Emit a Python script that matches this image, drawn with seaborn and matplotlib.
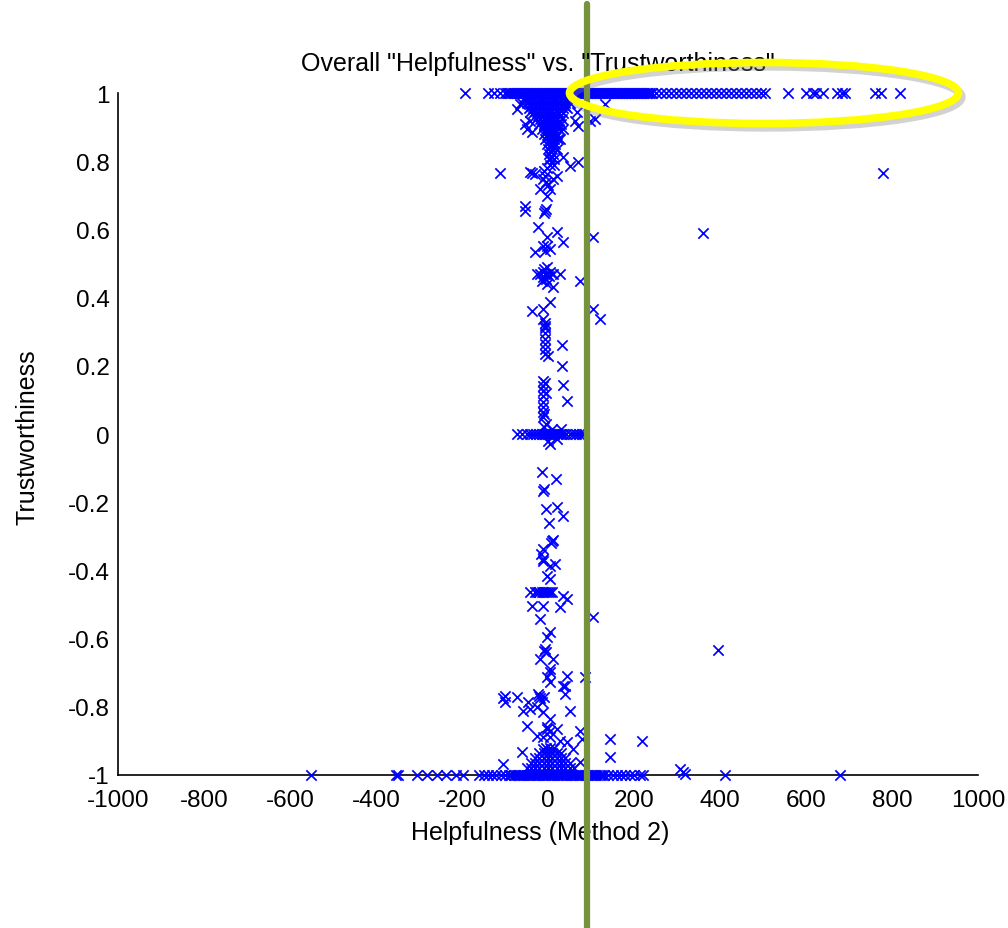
import matplotlib
matplotlib.use("Agg")
import matplotlib.pyplot as plt
import numpy as np
import pandas as pd
import seaborn as sns
from matplotlib.patches import Ellipse
from matplotlib.ticker import FixedLocator, FuncFormatter

# ---------------- data (Helpfulness, Trustworthiness) ----------------
top_row = [(-193, 1), (-140, 1), (-126, 1), (-112, 1), (-100, 1), (-92, 1), (-85, 1), (-78, 1),
           (-71, 1), (-64, 1), (-57, 1), (-50, 1), (-43, 1), (-36, 1), (-29, 1), (-22, 1), (-15, 1),
           (-8, 1), (-1, 1), (6, 1), (13, 1), (20, 1), (27, 1), (34, 1), (41, 1), (48, 1), (55, 1),
           (62, 1), (69, 1), (76, 1), (83, 1), (90, 1), (97, 1), (104, 1), (111, 1), (118, 1),
           (125, 1), (132, 1), (139, 1), (146, 1), (153, 1), (160, 1), (167, 1), (174, 1), (181, 1),
           (188, 1), (195, 1), (202, 1), (209, 1), (216, 1), (223, 1), (230, 1), (237, 1), (250, 1),
           (262, 1), (274, 1), (286, 1), (297, 1), (309, 1), (320, 1), (332, 1), (344, 1), (355, 1),
           (367, 1), (378, 1), (390, 1), (402, 1), (414, 1), (425, 1), (437, 1), (449, 1), (460, 1),
           (472, 1), (484, 1), (495, 1), (505, 1), (558, 1), (600, 1), (616, 1), (624, 1), (640, 1),
           (672, 1), (684, 1), (690, 1), (760, 1), (774, 1), (819, 1)]

top_row_fill = [(-96, 1), (-88, 1), (-81, 1), (-74, 1), (-67, 1), (-60, 1), (-53, 1), (-46, 1),
                (-39, 1), (-32, 1), (-25, 1), (-18, 1), (-11, 1), (-4, 1), (3, 1), (10, 1), (17, 1),
                (24, 1), (31, 1), (38, 1), (45, 1), (52, 1), (59, 1), (66, 1), (73, 1), (80, 1),
                (87, 1), (94, 1), (101, 1), (108, 1), (115, 1), (122, 1), (129, 1), (136, 1),
                (143, 1), (150, 1), (157, 1), (164, 1), (171, 1), (178, 1), (185, 1), (192, 1),
                (199, 1), (206, 1), (213, 1), (220, 1), (227, 1), (234, 1), (243, 1)]

v_core = [(-60, 0.97), (-50, 0.97), (-40, 0.97), (-30, 0.97), (-20, 0.97), (-10, 0.97), (0, 0.97),
          (10, 0.97), (20, 0.97), (30, 0.97), (40, 0.97), (50, 0.97),
          (-55, 0.985), (-45, 0.985), (-35, 0.985), (-25, 0.985), (-15, 0.985), (-5, 0.985),
          (5, 0.985), (15, 0.985), (25, 0.985), (35, 0.985), (45, 0.985), (55, 0.985),
          (-45, 0.955), (-35, 0.955), (-25, 0.955), (-15, 0.955), (-5, 0.955), (5, 0.955),
          (15, 0.955), (25, 0.955), (35, 0.955), (45, 0.955),
          (-40, 0.962), (-30, 0.962), (-20, 0.962), (-10, 0.962), (0, 0.962), (10, 0.962),
          (20, 0.962), (30, 0.962), (40, 0.962),
          (-35, 0.94), (-25, 0.94), (-15, 0.94), (-5, 0.94), (5, 0.94), (15, 0.94), (25, 0.94), (35, 0.94),
          (-30, 0.947), (-20, 0.947), (-10, 0.947), (0, 0.947), (10, 0.947), (20, 0.947), (30, 0.947),
          (-28, 0.925), (-18, 0.925), (-8, 0.925), (2, 0.925), (12, 0.925), (22, 0.925), (32, 0.925),
          (-23, 0.932), (-13, 0.932), (-3, 0.932), (7, 0.932), (17, 0.932), (27, 0.932),
          (-20, 0.91), (-10, 0.91), (0, 0.91), (10, 0.91), (20, 0.91), (30, 0.91),
          (-15, 0.917), (-5, 0.917), (5, 0.917), (15, 0.917), (25, 0.917),
          (-15, 0.895), (-5, 0.895), (5, 0.895), (15, 0.895), (25, 0.895),
          (-10, 0.902), (0, 0.902), (10, 0.902), (20, 0.902),
          (-10, 0.88), (0, 0.88), (10, 0.88), (20, 0.88),
          (-5, 0.887), (5, 0.887), (15, 0.887),
          (-6, 0.865), (4, 0.865), (14, 0.865), (24, 0.865),
          (0, 0.872), (10, 0.872), (19, 0.872),
          (-3, 0.85), (7, 0.85), (17, 0.85), (2, 0.857), (12, 0.857),
          (0, 0.835), (10, 0.835), (20, 0.835), (5, 0.842), (15, 0.842),
          (2, 0.82), (12, 0.82), (7, 0.827), (3, 0.805), (13, 0.805), (8, 0.812), (5, 0.79), (15, 0.79)]

upper_scatter = [(-72, 0.953), (-65, 0.968), (-42, 0.944), (-49, 0.894), (-53, 0.909), (-37, 0.886),
                 (-42, 0.918), (28, 0.933), (35, 0.894), (28, 0.865), (63, 0.918), (70, 0.903),
                 (98, 0.918), (109, 0.924), (133, 0.968), (67, 0.944), (35, 0.812), (51, 0.786),
                 (70, 0.798), (5, 0.806), (-112, 0.765), (-42, 0.768), (-37, 0.765), (-30, 0.762),
                 (-12, 0.748), (-19, 0.718), (5, 0.718), (-2, 0.698), (12, 0.748), (21, 0.757),
                 (-53, 0.669), (-7, 0.757), (0, 0.73), (-5, 0.74), (-9, 0.77), (-2, 0.78)]

mid_upper = [(-53, 0.654), (-7, 0.654), (-5, 0.66), (-9, 0.648), (-23, 0.607), (21, 0.592),
             (-2, 0.578), (35, 0.563), (-30, 0.534), (-12, 0.551), (-2, 0.551), (5, 0.543),
             (-7, 0.537), (105, 0.578), (360, 0.589), (779, 0.765),
             (-19, 0.469), (-12, 0.475), (-7, 0.469), (-2, 0.469), (3, 0.463), (-12, 0.46),
             (-5, 0.455), (-9, 0.484), (-2, 0.49), (5, 0.475), (12, 0.469), (-14, 0.45),
             (28, 0.469), (12, 0.431), (-2, 0.44), (74, 0.449), (-26, 0.47),
             (-37, 0.361), (5, 0.387), (-12, 0.367), (-12, 0.337), (-7, 0.317), (105, 0.367),
             (121, 0.337),
             (-7, 0.325), (-7, 0.31), (-7, 0.295), (-7, 0.28), (-7, 0.265), (-7, 0.25), (-7, 0.235),
             (33, 0.261), (0, 0.229), (33, 0.199),
             (-12, 0.155), (-12, 0.14), (-12, 0.125), (-12, 0.11), (-12, 0.095), (-12, 0.08),
             (-12, 0.065), (-12, 0.05), (-7, 0.15), (-5, 0.12), (-9, 0.06), (35, 0.144), (44, 0.097)]

zero_row = [(-72, 0), (-60, 0), (-50, 0), (-42, 0), (-35, 0), (-28, 0), (-20, 0), (-14, 0), (-9, 0),
            (-5, 0), (0, 0), (5, 0), (10, 0), (15, 0), (20, 0), (25, 0), (30, 0), (36, 0), (42, 0),
            (50, 0), (58, 0), (65, 0), (72, 0), (78, 0), (83, 0),
            (-10, 0.02), (0, -0.02), (10, 0.015), (-5, 0.03), (20, -0.015), (30, 0.015), (5, -0.03)]

lower = [(-14, -0.111), (19, -0.132), (-12, -0.167), (-9, -0.16), (-5, -0.22), (21, -0.214),
         (35, -0.24), (2, -0.261), (9, -0.314), (12, -0.31), (7, -0.32), (-12, -0.337),
         (-16, -0.352), (-12, -0.367), (16, -0.381), (5, -0.387), (-12, -0.372), (-2, -0.416),
         (5, -0.425),
         (-30, -0.463), (-25, -0.463), (-20, -0.463), (-15, -0.463), (-10, -0.463), (-5, -0.463),
         (0, -0.463), (5, -0.463), (10, -0.463),
         (-42, -0.463), (35, -0.475), (44, -0.484), (-37, -0.504), (-12, -0.504), (28, -0.507),
         (-19, -0.543), (105, -0.537),
         (5, -0.581), (-2, -0.595), (-7, -0.63), (-5, -0.64), (-9, -0.635), (-19, -0.66),
         (12, -0.66), (5, -0.689), (-2, -0.713), (44, -0.71), (86, -0.713), (35, -0.739),
         (5, -0.698), (5, -0.727), (395, -0.633)]

low_cluster = [(-105, -0.774), (-100, -0.768), (-100, -0.786), (-72, -0.771), (-47, -0.786),
               (-23, -0.762), (-20, -0.768), (-14, -0.786), (-18, -0.775), (-10, -0.77),
               (40, -0.739), (40, -0.762),
               (-58, -0.812), (-42, -0.806), (-26, -0.801), (-12, -0.815), (5, -0.836), (51, -0.812),
               (-49, -0.856), (-2, -0.865), (-2, -0.86), (5, -0.87), (21, -0.865), (74, -0.871),
               (-26, -0.886), (-12, -0.889), (5, -0.889), (28, -0.9), (44, -0.903), (79, -0.894),
               (-60, -0.933), (-12, -0.924), (58, -0.924), (144, -0.894), (219, -0.9),
               (144, -0.947), (74, -0.962), (-105, -0.968),
               (-5, -0.92), (5, -0.92), (15, -0.92),
               (-20, -0.935), (-10, -0.935), (0, -0.935), (10, -0.935), (20, -0.935), (30, -0.935),
               (-30, -0.95), (-20, -0.95), (-10, -0.95), (0, -0.95), (10, -0.95), (20, -0.95),
               (30, -0.95), (40, -0.95),
               (-40, -0.965), (-30, -0.965), (-20, -0.965), (-10, -0.965), (0, -0.965), (10, -0.965),
               (20, -0.965), (30, -0.965), (40, -0.965), (50, -0.965),
               (-50, -0.98), (-40, -0.98), (-30, -0.98), (-20, -0.98), (-10, -0.98), (0, -0.98),
               (10, -0.98), (20, -0.98), (30, -0.98), (40, -0.98), (50, -0.98), (60, -0.98)]

bottom_row = [(-551, -1), (-353, -1), (-348, -1), (-304, -1), (-281, -1), (-259, -1), (-237, -1),
              (-215, -1), (-197, -1), (-160, -1), (-150, -1), (-140, -1), (-130, -1), (-120, -1),
              (-110, -1), (-100, -1), (-90, -1), (-80, -1), (-70, -1), (-60, -1), (-50, -1),
              (-40, -1), (-30, -1), (-20, -1), (-10, -1), (0, -1), (10, -1), (20, -1), (30, -1),
              (40, -1), (50, -1), (60, -1), (70, -1), (80, -1), (90, -1), (100, -1), (110, -1),
              (120, -1), (130, -1), (140, -1), (150, -1), (160, -1), (170, -1), (178, -1),
              (190, -1), (200, -1), (214, -1), (222, -1), (412, -1), (679, -1),
              (307, -0.982), (319, -0.997), (315, -0.99),
              (-85, -1), (-75, -1), (-65, -1), (-55, -1), (-45, -1), (-35, -1), (-25, -1),
              (-15, -1), (-5, -1), (5, -1), (15, -1), (25, -1), (35, -1), (45, -1), (55, -1),
              (65, -1), (75, -1), (85, -1), (95, -1), (105, -1), (115, -1), (125, -1)]

x_ticks = [-1000, -800, -600, -400, -200, 0, 200, 400, 600, 800, 1000]
y_ticks = [-1, -0.8, -0.6, -0.4, -0.2, 0, 0.2, 0.4, 0.6, 0.8, 1]
threshold_help = 91

title_text = 'Overall "Helpfulness" vs. "Trustworthiness"'
x_label = "Helpfulness (Method 2)"
y_label = "Trustworthiness"

points = (top_row + top_row_fill + v_core + upper_scatter + mid_upper + zero_row + lower
          + low_cluster + bottom_row)
df = pd.DataFrame(points, columns=["help", "trust"])

# ---------------- style ----------------
sns.set_style("white")
plt.rcParams["font.family"] = ["Liberation Sans", "DejaVu Sans"]
plt.rcParams["axes.unicode_minus"] = False
plt.rcParams["text.color"] = "black"
plt.rcParams["axes.labelcolor"] = "black"
plt.rcParams["xtick.color"] = "black"
plt.rcParams["ytick.color"] = "black"

W, H = 1008, 929
fig = plt.figure(figsize=(W / 100, H / 100), dpi=100)
ax = fig.add_axes([118 / W, (H - 776) / H, 860 / W, 682 / H])

sns.scatterplot(data=df, x="help", y="trust", marker="x", color="#0000ff", s=55,
                linewidth=1.25, ax=ax, clip_on=False, legend=False, zorder=3)

ax.set_xlim(-1000, 1000)
ax.set_ylim(-1, 1)
ax.xaxis.set_major_locator(FixedLocator(x_ticks))
ax.yaxis.set_major_locator(FixedLocator(y_ticks))
fmt = FuncFormatter(lambda v, p: f"{v:g}")
ax.xaxis.set_major_formatter(fmt)
ax.yaxis.set_major_formatter(fmt)

for s in ["top", "right"]:
    ax.spines[s].set_visible(False)
for s in ["left", "bottom"]:
    ax.spines[s].set_color("black")
    ax.spines[s].set_linewidth(1.2)

ax.tick_params(axis="both", direction="in", length=7, width=1.2, colors="black",
               labelcolor="black", labelsize=17.5)
ax.tick_params(axis="x", pad=10)
ax.tick_params(axis="y", pad=6)

ax.set_xlabel(x_label, fontsize=18, color="black")
ax.set_ylabel(y_label, fontsize=18, color="black")
ax.xaxis.set_label_coords((540 - 118) / 860, (776 - 833) / 682)
ax.xaxis.label.set_va("center")
ax.yaxis.set_label_coords((28 - 118) / 860, (776 - 437) / 682)
ax.yaxis.label.set_va("center")

fig.text(538 / W, 1 - 64 / H, title_text, fontsize=18, ha="center", va="center", color="black")

# green threshold line extending past the axes
ax.axvline(threshold_help, ymin=(776 - 929) / 682, ymax=(776 - 5) / 682, color="#76923C",
           linewidth=4.5, clip_on=False, zorder=6)

# yellow highlight ellipse (figure coordinates) with a soft shadow
shadow = Ellipse(((764 + 3) / W, 1 - (94 + 4) / H), 389 / W, 61 / H, transform=fig.transFigure,
                 fill=False, edgecolor="#808080", linewidth=6, alpha=0.35, zorder=5)
fig.add_artist(shadow)
ell = Ellipse((764 / W, 1 - 94 / H), 389 / W, 61 / H, transform=fig.transFigure,
              fill=False, edgecolor="#FFFF00", linewidth=5.5, zorder=5)
fig.add_artist(ell)

fig.savefig("out.png", dpi=100)
